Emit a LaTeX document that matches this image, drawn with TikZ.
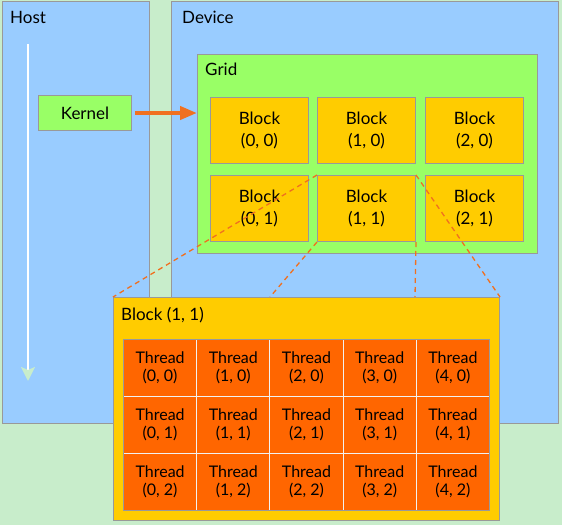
\documentclass[tikz,border=0pt]{standalone}
\usepackage{fontspec}
\setmainfont{Lato}
\usetikzlibrary{arrows.meta}
\definecolor{bg}{HTML}{C8EDCB}
\definecolor{blu}{HTML}{99CCFF}
\definecolor{grn}{HTML}{99FF66}
\definecolor{blk}{HTML}{FFCC00}
\definecolor{thr}{HTML}{FF6600}
\definecolor{bord}{HTML}{999999}
\definecolor{dashorange}{HTML}{F07020}
\definecolor{tipgreen}{HTML}{C8EDCB}
\begin{document}
\begin{tikzpicture}[x=1pt,y=-1pt,
  box/.style={draw=bord,line width=1pt,anchor=north west,inner sep=0pt},
  lbl/.style={anchor=base west,inner sep=0pt,font=\fontsize{17}{20}\selectfont},
  blockbox/.style={box,fill=blk,minimum width=98pt,minimum height=66pt,align=center,font=\fontsize{17}{22}\selectfont},
  threadbox/.style={draw=white!90!gray,line width=1pt,fill=thr,anchor=north west,inner sep=0pt,minimum width=73.2pt,minimum height=57pt,align=center,font=\fontsize{16}{18}\selectfont},
  dashln/.style={draw=dashorange,line width=1.3pt,dash pattern=on 5pt off 4pt}]
\useasboundingbox (0,0) rectangle (562,525);
\fill[bg] (0,0) rectangle (562,525);
% Host and Device
\node[box,fill=blu,minimum width=147pt,minimum height=422pt] (host) at (2,1) {};
\node[box,fill=blu,minimum width=387pt,minimum height=422pt] (device) at (171,1) {};
\node[lbl] (hostl) at (10,23) {Host};
\node[lbl] (devl) at (182,23) {Device};
% time arrow
\coordinate (ta) at (28,44);
\coordinate (tb) at (28,381);
\draw[white,line width=2.5pt,-{Stealth[length=14pt,width=14pt,inset=3pt,fill=tipgreen,color=tipgreen]}] (ta) -- (tb);
% Kernel
\node[box,fill=grn,minimum width=93pt,minimum height=35pt,font=\fontsize{17}{20}\selectfont] (kernel) at (38,95) {Kernel};
% Grid
\node[box,fill=grn,minimum width=340pt,minimum height=199pt] (grid) at (197,54) {};
\node[lbl] (gridl) at (205,75) {Grid};
\coordinate (ka) at (135,113);
\draw[dashorange,line width=4pt,-{Triangle[length=17pt,width=13pt]}] (ka) -- (grid.west |- ka);
% Blocks
\node[blockbox] (b00) at (210,97) {Block\\(0, 0)};
\node[blockbox] (b10) at (317,97) {Block\\(1, 0)};
\node[blockbox] (b20) at (425,97) {Block\\(2, 0)};
\node[blockbox] (b01) at (210,175) {Block\\(0, 1)};
\node[blockbox] (b11) at (317,175) {Block\\(1, 1)};
\node[blockbox] (b21) at (425,175) {Block\\(2, 1)};
% Big block
\node[box,fill=blk,minimum width=386pt,minimum height=223pt] (big) at (113,297) {};
\node[lbl] (bigl) at (121,320) {Block (1, 1)};
% dashed connectors
\coordinate (bigtm) at (270,297);
\coordinate (bigtr) at (415,297);
\draw[dashln] (b11.north west) -- (big.north west);
\draw[dashln] (b11.south west) -- (bigtm);
\draw[dashln] (b11.south east) -- (bigtr);
\draw[dashln] (b11.north east) -- (big.north east);
% Threads
\foreach \r in {0,1,2}{
  \foreach \c in {0,1,2,3,4}{
    \node[threadbox] (t\c\r) at ({123+73.2*\c},{339+57*\r}) {Thread\\(\c, \r)};
  }
}
\draw[bord,line width=1pt] (123,339) rectangle (489,510);
\end{tikzpicture}
\end{document}
